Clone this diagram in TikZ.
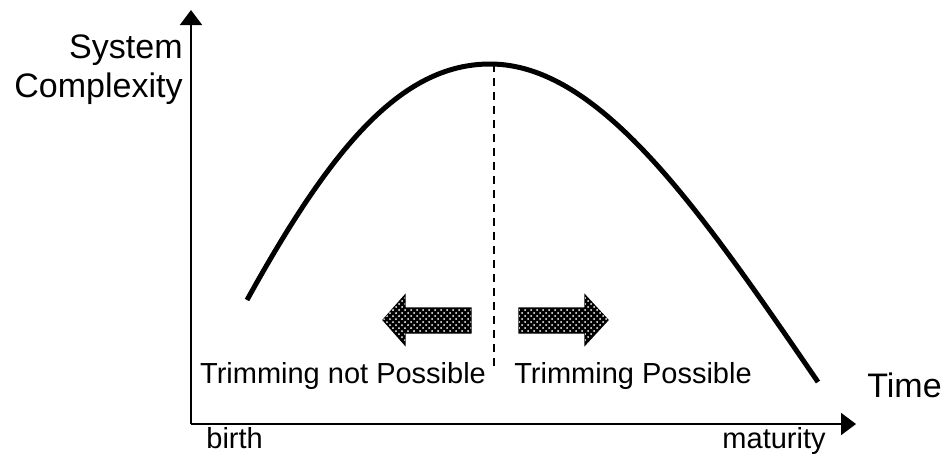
\documentclass[tikz,border=0pt]{standalone}
\usepackage{fontspec}
\setmainfont{Liberation Sans}
\usetikzlibrary{arrows.meta,patterns}
\tikzset{
  axis/.style={line width=1pt, -{Triangle[length=7.5pt,width=11pt]}},
  lbl/.style={inner sep=0pt, anchor=base, font=\fontsize{14.5}{17}\selectfont},
  biglbl/.style={lbl, font=\fontsize{17}{20}\selectfont},
  blockarrow/.style={draw=black, line width=0.6pt, fill=black,
    postaction={pattern=crosshatch dots, pattern color=white}}
}
\begin{document}
\begin{tikzpicture}[x=0.5pt, y=-0.5pt]
    \useasboundingbox (0,0) rectangle (946,457);

    % Axes
    \coordinate (O) at (191,424);
    \draw[axis] (O) -- (191,10);
    \draw[axis] (O) -- (856,424);

    % Axis labels
    \node[biglbl, anchor=base east] (sys)  at (183,58)  {System};
    \node[biglbl, anchor=base east] (cplx) at (183,97)  {Complexity};
    \node[biglbl, anchor=base west] (time) at (867,397) {Time};
    \node[lbl, anchor=base west] (birth) at (206,448) {birth};
    \node[lbl, anchor=base east] (mat)   at (826,448) {maturity};

    % Complexity curve
    \coordinate (peak) at (490,64);
    \draw[line width=2.5pt] (247,300) .. controls (330,150) and (400,64) .. (peak)
        .. controls (600,64) and (700,210) .. (818,382);

    % Divider
    \draw[dashed, line width=0.6pt, dash pattern=on 4pt off 3pt] (494,64) -- (494,366);

    % Block arrows
    \draw[blockarrow] (383,320) -- (405,295) -- (405,308) -- (471,308) -- (471,333)
        -- (405,333) -- (405,345) -- cycle;
    \draw[blockarrow] (519,308) -- (585,308) -- (585,295) -- (608,320) -- (585,345)
        -- (585,333) -- (519,333) -- cycle;

    % Region labels
    \node[lbl] (notposs) at (343,383) {Trimming not Possible};
    \node[lbl] (poss)    at (633,383) {Trimming Possible};

\end{tikzpicture}
\end{document}
